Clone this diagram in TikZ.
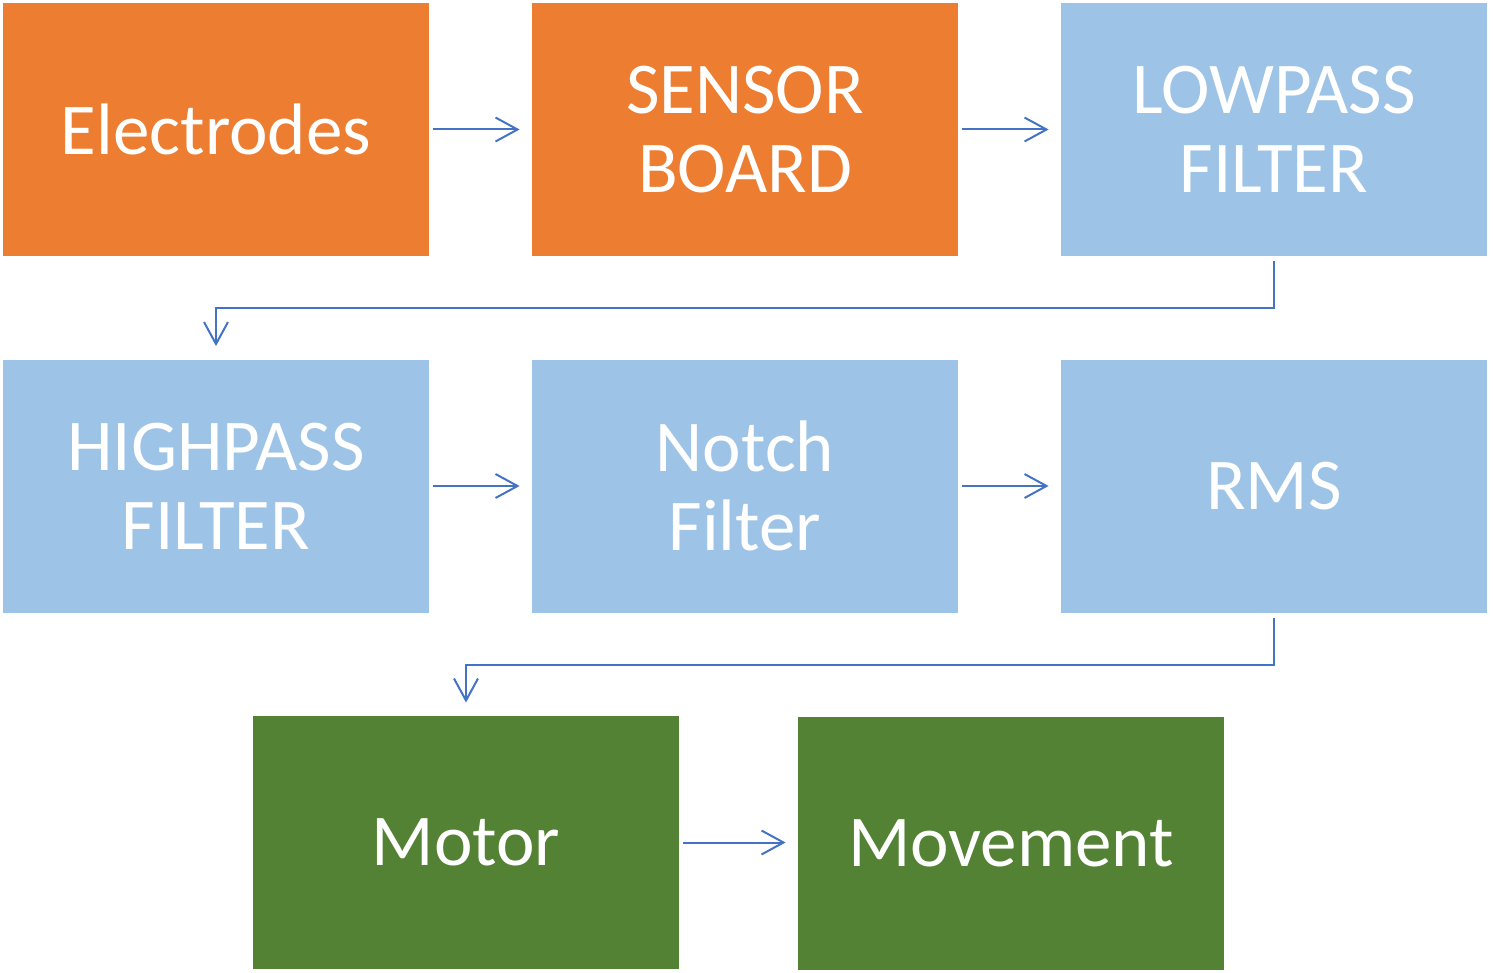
\documentclass[tikz,border=0pt]{standalone}
\usepackage{fontspec}
\setmainfont{Carlito}
\usetikzlibrary{arrows.meta}
\definecolor{boxorange}{HTML}{ED7D31}
\definecolor{boxblue}{HTML}{9DC3E6}
\definecolor{boxgreen}{HTML}{548235}
\definecolor{flowblue}{HTML}{4472C4}
\begin{document}
\begin{tikzpicture}[x=0.5pt,y=-0.5pt,>={Straight Barb[length=11pt,width=12pt]},
    stage/.style={minimum width=213pt,minimum height=126.5pt,inner sep=0pt,align=center,
      text=white,font=\fontsize{36.5}{39.5}\selectfont},
    orangebox/.style={stage,fill=boxorange},
    bluebox/.style={stage,fill=boxblue},
    greenbox/.style={stage,fill=boxgreen},
    flow/.style={->,draw=flowblue,line width=1pt,shorten <=2pt,shorten >=6pt}]
    \useasboundingbox (0,0) rectangle (1493,973);

    \node[orangebox] (electrodes) at (216,129.5) {Electrodes};
    \node[orangebox] (sensor) at (745,129.5) {SENSOR\\BOARD};
    \node[bluebox] (lowpass) at (1274,129.5) {LOWPASS\\FILTER};
    \node[bluebox] (highpass) at (216,486) {HIGHPASS\\FILTER};
    \node[bluebox] (notch) at (745,486) {Notch\\Filter};
    \node[bluebox] (rms) at (1274,486) {RMS};
    \node[greenbox] (motor) at (466,842.5) {Motor};
    \node[greenbox] (movement) at (1011,843.5) {Movement};

    \draw[flow] (electrodes) -- (sensor);
    \draw[flow] (sensor) -- (lowpass);
    \draw[flow,shorten <=2.5pt,shorten >=6.5pt] (lowpass.south) -- ++(0,52) -| (highpass.north);
    \draw[flow] (highpass) -- (notch);
    \draw[flow] (notch) -- (rms);
    \draw[flow,shorten <=2.5pt,shorten >=6.5pt] (rms.south) -- ++(0,52) -| (motor.north);
    \draw[flow] (motor.east) -- (movement.west |- motor.east);
\end{tikzpicture}
\end{document}
